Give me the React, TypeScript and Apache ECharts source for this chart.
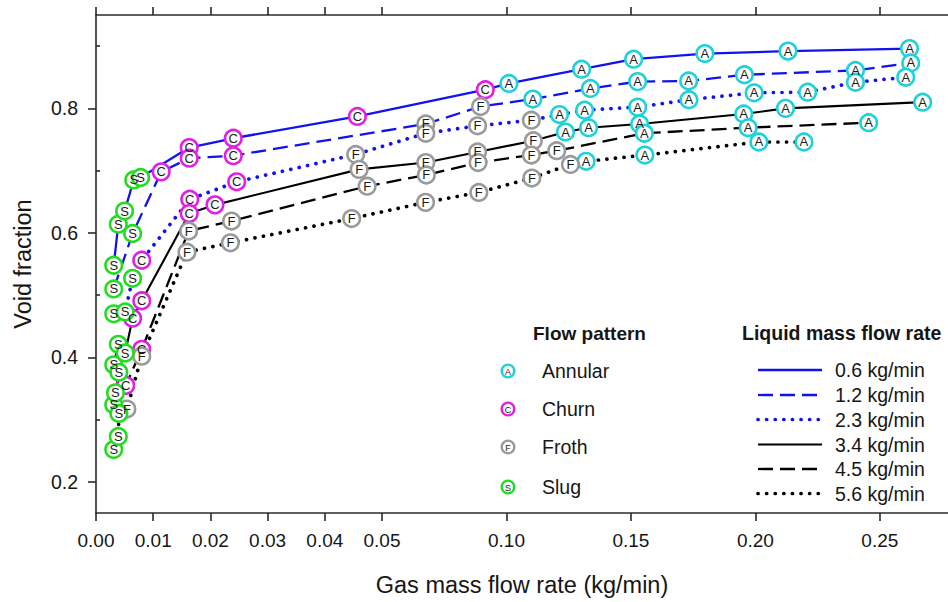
import React, { useEffect, useRef } from "react";
import * as echarts from "echarts";

// ---------------- data ----------------
const liquidRates = ["0.6 kg/min", "1.2 kg/min", "2.3 kg/min", "3.4 kg/min", "4.5 kg/min", "5.6 kg/min"];

const gas06 = [0.0031, 0.0039, 0.005, 0.0066, 0.0078, 0.0163, 0.024, 0.0457, 0.0915, 0.101, 0.1302, 0.1511, 0.1797, 0.2131, 0.2619];
const void06 = [0.548, 0.614, 0.635, 0.685, 0.689, 0.737, 0.752, 0.787, 0.83, 0.84, 0.863, 0.879, 0.888, 0.892, 0.896];
const pattern06 = "SSSSSCCCCAAAAAA";

const gas12 = [0.0031, 0.0064, 0.0114, 0.0163, 0.024, 0.0676, 0.0896, 0.1106, 0.1337, 0.1527, 0.1732, 0.1956, 0.2402, 0.2624];
const void12 = [0.51, 0.599, 0.698, 0.72, 0.724, 0.775, 0.803, 0.815, 0.832, 0.843, 0.844, 0.854, 0.861, 0.873];
const pattern12 = "SSCCCFFAAAAAAA";

const gas23 = [0.0031, 0.0051, 0.0064, 0.008, 0.0164, 0.0246, 0.0454, 0.0676, 0.0884, 0.11, 0.1213, 0.1314, 0.1527, 0.1733, 0.1995, 0.221, 0.2402, 0.2604];
const void23 = [0.47, 0.473, 0.527, 0.556, 0.654, 0.682, 0.726, 0.76, 0.772, 0.781, 0.79, 0.797, 0.802, 0.814, 0.825, 0.826, 0.842, 0.85];
const pattern23 = "SSSCCCFFFFAAAAAAAA";

const gas34 = [0.0031, 0.0039, 0.0051, 0.0064, 0.008, 0.0163, 0.0208, 0.046, 0.0676, 0.0884, 0.1108, 0.1237, 0.133, 0.1535, 0.1953, 0.2121, 0.2672];
const void34 = [0.388, 0.421, 0.407, 0.463, 0.491, 0.631, 0.645, 0.702, 0.713, 0.73, 0.748, 0.762, 0.769, 0.775, 0.791, 0.8, 0.81];
const pattern34 = "SSSCCCCFFFFAAAAAA";

const gas45 = [0.0031, 0.0034, 0.004, 0.0052, 0.008, 0.0162, 0.0237, 0.0474, 0.0678, 0.0886, 0.11, 0.1202, 0.1554, 0.1971, 0.2455];
const void45 = [0.324, 0.343, 0.376, 0.355, 0.413, 0.603, 0.619, 0.675, 0.693, 0.713, 0.725, 0.732, 0.76, 0.769, 0.777];
const pattern45 = "SSSCCFFFFFFFAAA";

const gas56 = [0.0031, 0.0039, 0.004, 0.0054, 0.008, 0.0159, 0.0235, 0.0447, 0.0675, 0.0889, 0.1102, 0.1257, 0.132, 0.1556, 0.2014, 0.2195];
const void56 = [0.252, 0.273, 0.31, 0.317, 0.402, 0.569, 0.584, 0.623, 0.649, 0.665, 0.688, 0.71, 0.715, 0.725, 0.746, 0.746];
const pattern56 = "SSSFFFFFFFFFAAAA";

const patternLetters = ["A", "C", "F", "S"];
const patternNames = ["Annular", "Churn", "Froth", "Slug"];

const xTickValues = [0, 0.01, 0.02, 0.03, 0.04, 0.05, 0.1, 0.15, 0.2, 0.25];
const xTickLabels = ["0.00", "0.01", "0.02", "0.03", "0.04", "0.05", "0.10", "0.15", "0.20", "0.25"];
const yTickValues = [0.2, 0.4, 0.6, 0.8];
const yTickLabels = ["0.2", "0.4", "0.6", "0.8"];
const yMinorTicks = [0.3, 0.5, 0.7, 0.9];

// ---------------- styling / scale ----------------
const FONT = "'Liberation Sans', Arial, Helvetica, sans-serif";
const TEXT = "#161616";
const AXIS = "#2a2a2a";
const BLUE = "#1212f0";
const patternColors = ["#1ed2d8", "#e21fe2", "#9a9a9a", "#22dc22"];

// broken (piecewise linear) gas-flow axis: compressed beyond 0.05
const BREAK = 0.05;
const STRETCH = 43.52;
const tx = (x: number) => (x <= BREAK ? x * 100 : BREAK * 100 + (x - BREAK) * STRETCH);

const GRID_LEFT = 96;
const GRID_TOP = 15;
const GRID_W = 855;
const GRID_H = 504;
const PX_PER_T = 57.4;
const XMAX = GRID_W / PX_PER_T;

const lines = [
  { gas: gas06, vf: void06, pat: pattern06, color: BLUE, type: "solid" as any, width: 2.3, cap: "butt" },
  { gas: gas12, vf: void12, pat: pattern12, color: BLUE, type: [15, 7], width: 2.3, cap: "butt" },
  { gas: gas23, vf: void23, pat: pattern23, color: BLUE, type: [0.1, 8.5], width: 3.7, cap: "round" },
  { gas: gas34, vf: void34, pat: pattern34, color: "#000", type: "solid" as any, width: 2.1, cap: "butt" },
  { gas: gas45, vf: void45, pat: pattern45, color: "#000", type: [15, 7], width: 2.3, cap: "butt" },
  { gas: gas56, vf: void56, pat: pattern56, color: "#000", type: [0.1, 8.5], width: 3.7, cap: "round" },
];

function buildOption() {
  const xTickT = xTickValues.map(tx);
  const series: any[] = [];

  lines.forEach((ln, i) => {
    series.push({
      type: "line",
      name: liquidRates[i],
      xAxisIndex: 0,
      yAxisIndex: 0,
      data: ln.gas.map((g, k) => [tx(g), ln.vf[k]]),
      symbol: "none",
      z: 2,
      lineStyle: { color: ln.color, width: ln.width, type: ln.type, cap: ln.cap },
    });
  });

  patternLetters.forEach((letter, pi) => {
    const pts: number[][] = [];
    lines.forEach((ln) => {
      ln.gas.forEach((g, k) => {
        if (ln.pat[k] === letter) pts.push([tx(g), ln.vf[k]]);
      });
    });
    series.push({
      type: "scatter",
      name: patternNames[pi],
      xAxisIndex: 0,
      yAxisIndex: 0,
      data: pts,
      symbol: "circle",
      symbolSize: 16.5,
      z: 5,
      itemStyle: { color: "#ffffff", borderColor: patternColors[pi], borderWidth: 2.6, opacity: 1 },
      label: {
        show: true,
        position: "inside",
        formatter: letter,
        fontSize: 13,
        fontFamily: FONT,
        color: "#1a1a1a",
      },
    });
  });

  // legends (drawn inside plot area)
  const graphic: any[] = [];
  graphic.push({
    type: "text",
    x: 533,
    y: 333,
    style: { text: "Flow pattern", fontSize: 19, fontWeight: "bold", fontFamily: FONT, fill: TEXT, align: "left", verticalAlign: "middle" },
  });
  const fpRows = [371, 409, 447, 487];
  patternNames.forEach((nm, i) => {
    graphic.push({
      type: "circle",
      shape: { cx: 508, cy: fpRows[i], r: 6.3 },
      style: { fill: "#fff", stroke: patternColors[i], lineWidth: 2.4 },
    });
    graphic.push({
      type: "text",
      x: 508,
      y: fpRows[i] + 0.5,
      style: { text: patternLetters[i], fontSize: 9, fontFamily: FONT, fill: "#222", align: "center", verticalAlign: "middle" },
    });
    graphic.push({
      type: "text",
      x: 542,
      y: fpRows[i],
      style: { text: nm, fontSize: 19.5, fontFamily: FONT, fill: TEXT, align: "left", verticalAlign: "middle" },
    });
  });

  graphic.push({
    type: "text",
    x: 742,
    y: 333,
    style: { text: "Liquid mass flow rate", fontSize: 19.5, fontWeight: "bold", fontFamily: FONT, fill: TEXT, align: "left", verticalAlign: "middle" },
  });
  const lqRows = [370, 395, 419.5, 444.5, 469, 493.5];
  liquidRates.forEach((nm, i) => {
    const ln = lines[i];
    const dash = Array.isArray(ln.type) ? ln.type : null;
    graphic.push({
      type: "line",
      shape: { x1: 758, y1: lqRows[i], x2: 822, y2: lqRows[i] },
      style: { stroke: ln.color, lineWidth: ln.width, lineDash: dash, lineCap: ln.cap },
    });
    graphic.push({
      type: "text",
      x: 835,
      y: lqRows[i],
      style: { text: nm, fontSize: 19.5, fontFamily: FONT, fill: TEXT, align: "left", verticalAlign: "middle" },
    });
  });

  const xLabelFmt = (v: number) => {
    let best = 0;
    xTickT.forEach((t, i) => {
      if (Math.abs(t - v) < Math.abs(xTickT[best] - v)) best = i;
    });
    return xTickLabels[best];
  };
  const yLabelFmt = (v: number) => {
    let best = 0;
    yTickValues.forEach((t, i) => {
      if (Math.abs(t - v) < Math.abs(yTickValues[best] - v)) best = i;
    });
    return yTickLabels[best];
  };

  const axisLineStyle = { color: AXIS, width: 1.6 };

  return {
    animation: false,
    backgroundColor: "#ffffff",
    textStyle: { fontFamily: FONT },
    grid: { left: GRID_LEFT, top: GRID_TOP, width: GRID_W, height: GRID_H, containLabel: false },
    xAxis: [
      {
        type: "value",
        position: "bottom",
        min: 0,
        max: XMAX,
        axisLine: { show: true, onZero: false, lineStyle: axisLineStyle },
        axisTick: { show: true, customValues: xTickT, length: 8, lineStyle: axisLineStyle },
        axisLabel: { show: true, customValues: xTickT, formatter: xLabelFmt, margin: 18, fontSize: 19, fontFamily: FONT, color: TEXT },
        splitLine: { show: false },
        name: "Gas mass flow rate (kg/min)",
        nameLocation: "middle",
        nameGap: 60,
        nameTextStyle: { fontSize: 23.5, fontFamily: FONT, color: TEXT },
      },
      {
        type: "value",
        position: "top",
        min: 0,
        max: XMAX,
        axisLine: { show: true, onZero: false, lineStyle: axisLineStyle },
        axisTick: { show: true, customValues: xTickT, length: 8, lineStyle: axisLineStyle },
        axisLabel: { show: false },
        splitLine: { show: false },
      },
    ],
    yAxis: [
      {
        type: "value",
        position: "left",
        min: 0.15,
        max: 0.95,
        axisLine: { show: true, onZero: false, lineStyle: axisLineStyle },
        axisTick: { show: true, customValues: yTickValues, length: 8, lineStyle: axisLineStyle },
        axisLabel: { show: true, customValues: yTickValues, formatter: yLabelFmt, margin: 18, fontSize: 19.5, fontFamily: FONT, color: TEXT },
        splitLine: { show: false },
        name: "Void fraction",
        nameLocation: "middle",
        nameGap: 61,
        nameTextStyle: { fontSize: 23.5, fontFamily: FONT, color: TEXT },
      },
      {
        type: "value",
        position: "left",
        offset: 0,
        min: 0.15,
        max: 0.95,
        axisLine: { show: false },
        axisTick: { show: true, inside: true, customValues: yMinorTicks, length: 4, lineStyle: axisLineStyle },
        axisLabel: { show: false },
        splitLine: { show: false },
      },
    ],
    series,
    graphic,
  };
}

export default function App() {
  const ref = useRef<HTMLDivElement | null>(null);
  useEffect(() => {
    if (!ref.current) return;
    const chart = echarts.init(ref.current, null, { renderer: "svg" });
    chart.setOption(buildOption() as any);
    return () => chart.dispose();
  }, []);
  return (
    <div
      ref={ref}
      style={{ position: "fixed", left: 0, top: 0, width: 948, height: 602, background: "#fff" }}
    />
  );
}
